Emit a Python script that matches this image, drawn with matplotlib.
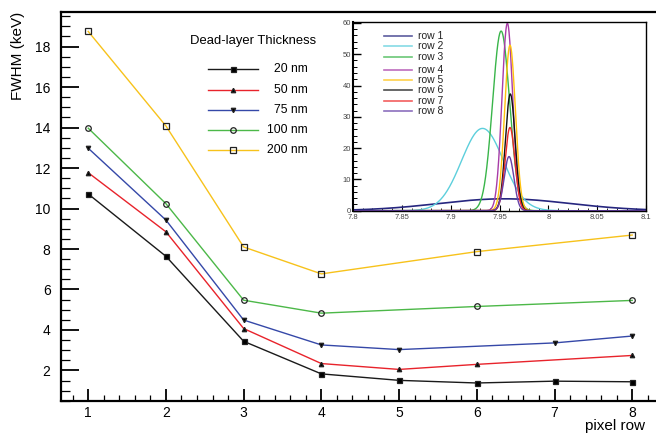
import numpy as np
import matplotlib
matplotlib.use('Agg')
import matplotlib.pyplot as plt
from matplotlib.ticker import MultipleLocator

plt.rcParams['font.family'] = ['Liberation Sans', 'DejaVu Sans']

# FWHM vs pixel row, one list per dead-layer thickness
thick_labels = ['20 nm', '50 nm', '75 nm', '100 nm', '200 nm']
rows_20 = [1, 2, 3, 4, 5, 6, 7, 8]
fwhm_20 = [10.72, 7.64, 3.44, 1.83, 1.51, 1.38, 1.47, 1.44]
rows_50 = [1, 2, 3, 4, 5, 6, 8]
fwhm_50 = [11.77, 8.85, 4.07, 2.34, 2.05, 2.30, 2.74]
rows_75 = [1, 2, 3, 4, 5, 7, 8]
fwhm_75 = [12.98, 9.43, 4.49, 3.26, 3.03, 3.36, 3.70]
rows_100 = [1, 2, 3, 4, 6, 8]
fwhm_100 = [13.97, 10.24, 5.47, 4.83, 5.16, 5.46]
rows_200 = [1, 2, 3, 4, 6, 8]
fwhm_200 = [18.75, 14.08, 8.10, 6.77, 7.87, 8.69]

# inset: fitted peaks per row (centre, height, sigma)
peak_labels = ['row 1', 'row 2', 'row 3', 'row 4', 'row 5', 'row 6', 'row 7', 'row 8']
peak_mean = [7.955, 7.9326, 7.9516, 7.958, 7.9607, 7.961, 7.9607, 7.9597]
peak_height = [3.8, 26.3, 57.4, 59.9, 52.9, 37.3, 26.6, 17.3]
peak_sigma = [0.067, 0.0215, 0.0087, 0.0055, 0.0055, 0.005, 0.005, 0.005]

series = [
    (rows_20, fwhm_20, '#1a1a1a', 's', 'k'),
    (rows_50, fwhm_50, '#e8232b', '^', 'k'),
    (rows_75, fwhm_75, '#3548a8', 'v', 'k'),
    (rows_100, fwhm_100, '#4cb848', 'o', 'none'),
    (rows_200, fwhm_200, '#f7c21b', 's', 'none'),
]
msizes = [3.6, 3.2, 3.2, 4.0, 4.6]
peak_colors = ['#26267f', '#5dcfdc', '#39b54a', '#a83ca8', '#ffc20e', '#111111', '#ee2a2a', '#6640a8']

fig = plt.figure(figsize=(6.56, 4.33), dpi=100)
ax = fig.add_axes([0.093, 0.0739, 0.907, 0.8984])

for (xs, ys, col, mk, fc), ms in zip(series, msizes):
    ax.plot(xs, ys, color=col, lw=1.0, marker=mk, ms=ms, mfc=fc, mec='#222222', mew=0.9)

ax.set_xlim(0.65, 8.306)
ax.set_ylim(0.49, 19.71)
ax.xaxis.set_major_locator(MultipleLocator(1))
ax.xaxis.set_minor_locator(MultipleLocator(0.2))
ax.yaxis.set_major_locator(MultipleLocator(2))
ax.yaxis.set_minor_locator(MultipleLocator(0.5))
ax.tick_params(axis='y', which='major', direction='in', length=13, width=1.3, labelsize=10, pad=7.5)
ax.tick_params(axis='y', which='minor', direction='in', length=6.5, width=0.9)
ax.tick_params(axis='x', which='major', direction='in', length=8.4, width=1.3, labelsize=10, pad=3.5)
ax.tick_params(axis='x', which='minor', direction='in', length=4.3, width=0.9)
ax.spines['right'].set_visible(False)
for s in ['left', 'bottom', 'top']:
    ax.spines[s].set_linewidth(1.6)

ax.set_ylabel('FWHM (keV)', fontsize=11, loc='top')
ax.yaxis.set_label_coords(-0.0605, 1.0)
ax.set_xlabel('pixel row', fontsize=11, loc='right', va='top')
ax.xaxis.set_label_coords(0.981, -0.046)

# legend, drawn by hand so labels sit right-aligned like the original
ax.text(0.3227, 0.9254, 'Dead-layer Thickness', transform=ax.transAxes,
        ha='center', va='center', fontsize=9.4)
leg_y = [0.8535, 0.8003, 0.748, 0.696, 0.6445]
for (xs, ys, col, mk, fc), ms, lab, yy in zip(series, msizes, thick_labels, leg_y):
    ax.plot([0.247, 0.331], [yy, yy], color=col, lw=1.0, transform=ax.transAxes, clip_on=False)
    ax.plot([0.289], [yy], marker=mk, ms=ms, mfc=fc, mec='#222222', mew=0.9,
            transform=ax.transAxes, clip_on=False)
    ax.text(0.415, yy, lab, transform=ax.transAxes, ha='right', va='center', fontsize=8.7)

# inset with the peak shapes
ins = fig.add_axes([0.538, 0.5134, 0.447, 0.4358])
xg = np.linspace(7.8, 8.1, 1500)
for m, h, sg, col in zip(peak_mean, peak_height, peak_sigma, peak_colors):
    lw = 1.2 if col == '#26267f' else 1.0
    ins.plot(xg, h * np.exp(-0.5 * ((xg - m) / sg) ** 2), color=col, lw=lw)
ins.set_xlim(7.8, 8.1)
ins.set_ylim(0, 60.3)
ins.xaxis.set_minor_locator(MultipleLocator(0.01))
ins.yaxis.set_major_locator(MultipleLocator(10))
ins.yaxis.set_minor_locator(MultipleLocator(2))
ins.set_xticks([7.8, 7.85, 7.9, 7.95, 8.0, 8.05, 8.1])
ins.set_xticklabels(['7.8', '7.85', '7.9', '7.95', '8', '8.05', '8.1'])
ins.tick_params(axis='y', which='major', direction='in', length=6, width=1.0, labelsize=5.5, pad=1.2, labelcolor='#444444')
ins.tick_params(axis='y', which='minor', direction='in', length=3, width=0.7)
ins.tick_params(axis='x', which='major', direction='in', length=4, width=0.8, labelsize=5.5, pad=2.6, labelcolor='#444444')
ins.tick_params(axis='x', which='minor', direction='in', length=2, width=0.6)
for s in ins.spines.values():
    s.set_linewidth(1.0)
ins.spines['left'].set_linewidth(1.5)

ins_leg_y = [0.926, 0.871, 0.816, 0.745, 0.692, 0.639, 0.582, 0.529]
for col, lab, yy in zip(peak_colors, peak_labels, ins_leg_y):
    ins.plot([0.106, 0.201], [yy, yy], color=col, lw=1.2, alpha=0.75, transform=ins.transAxes)
    ins.text(0.222, yy, lab, transform=ins.transAxes, ha='left', va='center', fontsize=7.5, color='#222222')

fig.savefig('out.png', dpi=100)
